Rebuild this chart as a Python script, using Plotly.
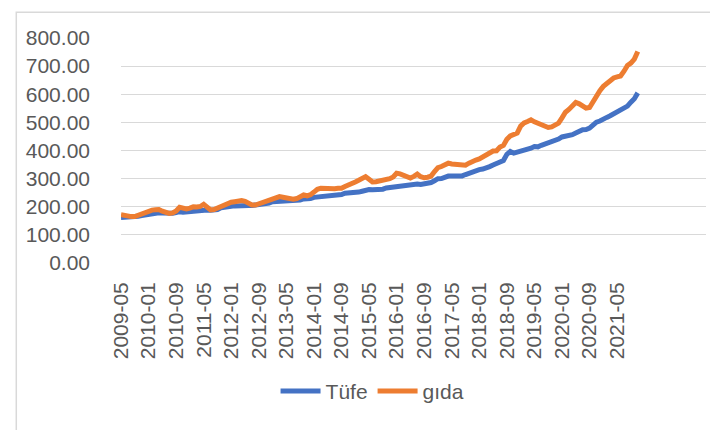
import pandas as pd
import plotly.graph_objects as go

# monthly categories 2009-05 .. 2021-11
months = [p.strftime("%Y-%m") for p in pd.period_range("2009-05", "2021-11", freq="M")]

tufe = [
    161.6, 161.8, 161.2, 161.4, 162.2, 165.9, 168.4, 170.9,
    174.1, 176.6, 177.6, 178.7, 178.0, 177.0, 176.2, 176.9, 179.1, 182.4, 180.4, 181.9,
    182.6, 183.9, 184.7, 186.3, 190.8, 188.1, 187.3, 188.0, 189.7, 196.3, 199.7, 200.9,
    202.0, 203.1, 204.0, 207.1, 206.6, 204.8, 204.6, 205.8, 207.5, 210.4, 211.7, 213.2,
    217.7, 218.0, 218.8, 219.8, 222.0, 222.4, 221.6, 221.6, 223.9, 227.7, 227.2, 229.0,
    233.5, 234.5, 237.2, 240.4, 241.3, 242.1, 243.2, 243.4, 243.7, 248.4, 248.8, 247.7,
    250.5, 252.2, 255.2, 259.4, 260.9, 260.5, 260.0, 260.4, 262.5, 266.7, 268.4, 269.5,
    274.4, 274.4, 274.3, 276.3, 277.8, 279.5, 280.9, 278.9, 281.1, 285.6, 286.0, 292.5,
    299.7, 300.4, 305.0, 309.0, 309.1, 308.5, 309.3, 309.7, 314.6, 319.6, 324.6, 327.4,
    331.9, 334.2, 337.3, 342.8, 348.6, 354.9, 357.4, 364.5, 386.5, 396.7, 390.6, 393.9,
    398.1, 398.7, 402.4, 408.3, 414.0, 413.0, 418.5, 422.5, 426.1, 434.6, 436.3, 440.5,
    448.1, 450.0, 452.6, 456.1, 461.9, 467.6, 473.9, 474.6, 479.4, 490.1, 500.7, 504.8,
    513.3, 517.7, 523.5, 531.4, 537.1, 546.0, 551.8, 557.9, 572.0, 584.3, 604.8,
]

gida = [
    172, 169, 166, 165, 165, 170, 175, 177,
    183, 188, 189, 190, 184, 179, 176, 178, 185, 198, 194, 192,
    195, 200, 199, 201, 209, 196, 189, 190, 195, 203, 209, 211,
    216, 218, 221, 222, 219, 212, 206, 206, 210, 214, 218, 220,
    228, 231, 236, 234, 232, 228, 227, 229, 234, 242, 239, 243,
    252, 262, 266, 265, 263, 263, 264, 266, 266, 272, 276, 280,
    288, 294, 302, 307, 298, 288, 289, 291, 293, 296, 300, 306,
    319, 317, 313, 309, 302, 308, 316, 307, 303, 305, 309, 325,
    339, 343, 349, 355, 352, 350, 349, 347, 348, 355, 362, 366,
    370, 378, 387, 390, 398, 399, 412, 418, 440, 452, 456, 462,
    487, 498, 503, 509, 502, 496, 493, 488, 482, 484, 489, 497,
    516, 536, 546, 562, 571, 566, 557, 551, 553, 575, 596, 613,
    628, 640, 652, 658, 662, 665, 682, 702, 711, 725, 752,
]

tick_labels = months[::8]
y_ticks = list(range(0, 801, 100))

FONT = "Liberation Sans"
GREY = "#595959"

fig = go.Figure()
fig.add_scatter(x=months, y=tufe, mode="lines", name="Tüfe",
                line=dict(color="#4472C4", width=5))
fig.add_scatter(x=months, y=gida, mode="lines", name="gıda",
                line=dict(color="#ED7D31", width=5))

fig.update_layout(
    width=718, height=430,
    margin=dict(l=113, r=20, t=30, b=175),
    paper_bgcolor="white", plot_bgcolor="white",
    font=dict(family=FONT, size=21, color=GREY),
    showlegend=True,
    legend=dict(orientation="h", x=0.43, xanchor="center", y=-0.57, yanchor="middle",
                font=dict(size=21, color=GREY), itemwidth=40),
    shapes=[dict(type="rect", xref="paper", yref="paper",
                 x0=-0.179, x1=1.024, y0=-0.771, y1=1.115,
                 line=dict(color="#D9D9D9", width=1.5))],
)
fig.update_xaxes(type="category", range=[0, 169.8], tickmode="array",
                 tickvals=tick_labels, ticktext=tick_labels, tickangle=-90,
                 showgrid=False, showline=False, zeroline=False,
                 ticklabelstandoff=14, tickfont=dict(size=21, color=GREY))
fig.update_yaxes(range=[0, 800], tickvals=y_ticks, tickformat=".2f",
                 showgrid=True, gridcolor="#D9D9D9", gridwidth=1.3,
                 zeroline=False, showline=False,
                 ticklabelstandoff=30, tickfont=dict(size=21, color=GREY))

fig.write_html("out.html")
